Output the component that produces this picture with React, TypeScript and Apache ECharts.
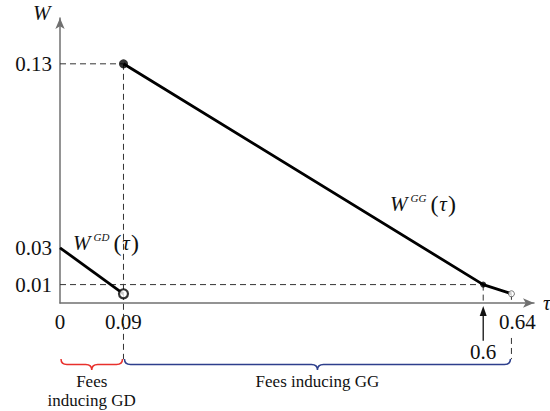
import React, { useEffect, useRef } from "react";
import * as echarts from "echarts";

// ---- data ----
const xLabelValues = [0, 0.09, 0.64];
const xArrowValue = 0.6;
const yLabelValues = [0.01, 0.03, 0.13];
const gdCurve = [[0, 0.03], [0.09, 0.005]];
const ggCurve = [[0.09, 0.13], [0.6, 0.01], [0.64, 0.005]];
const filledPoints = [[0.09, 0.13], [0.6, 0.01]];
const openPoints = [[0.09, 0.005], [0.64, 0.005]];
const guideLines = [
  [0, 0.13, 0.09, 0.13],
  [0.09, 0.13, 0.09, -0.0305],
  [0, 0.01, 0.6, 0.01],
  [0.6, 0.01, 0.6, 0],
  [0.64, 0.005, 0.64, 0],
  [0.64, -0.019, 0.64, -0.0305],
];
const arrowMarker = [[xArrowValue, -0.0205, -0.0016]];
const regionStarts = [0, 0.09];
const regionEnds = [0.09, 0.64];
const regionLabels = ["Fees\ninducing GD", "Fees inducing GG"];
const braceLevel = -0.0305;

// ---- styles ----
const regionColors = ["#e8302c", "#2d3f8c"];
const SERIF = "Liberation Serif";
const AXIS_COLOR = "#707070";

function fmt(v: number) {
  return String(Math.round(v * 100) / 100);
}

function curveLabel(x: number, y: number, sup: string) {
  return {
    type: "text",
    x,
    y,
    style: {
      text: `{w|W}{s|${sup}}{p|(}{t|τ}{p|)}`,
      verticalAlign: "middle",
      fill: "#111",
      rich: {
        w: { fontFamily: SERIF, fontStyle: "italic", fontSize: 21, color: "#111" },
        s: { fontFamily: SERIF, fontStyle: "italic", fontSize: 11, color: "#111", padding: [0, 3, 12, 3] },
        p: { fontFamily: SERIF, fontSize: 24, color: "#111", padding: [0, 1, 0, 1] },
        t: { fontFamily: SERIF, fontStyle: "italic", fontSize: 21, color: "#111" },
      },
    },
  };
}

export default function App() {
  const ref = useRef<HTMLDivElement>(null);
  useEffect(() => {
    document.body.style.margin = "0";
    const chart = echarts.init(ref.current!, null, { renderer: "svg" });
    const option: any = {
      animation: false,
      backgroundColor: "#fff",
      grid: { left: 60, right: 16, top: 18, bottom: 108, outerBoundsMode: "none" },
      xAxis: {
        type: "value",
        min: 0,
        max: 0.672,
        name: "τ",
        nameLocation: "end",
        nameGap: 9,
        nameTextStyle: { fontFamily: SERIF, fontStyle: "italic", fontSize: 21, color: "#111", padding: [16, 0, 0, 0] },
        axisLine: { show: true, symbol: ["none", "arrow"], symbolSize: [7, 11], lineStyle: { color: AXIS_COLOR, width: 1.5 } },
        axisTick: { show: false },
        splitLine: { show: false },
        axisLabel: {
          customValues: xLabelValues,
          margin: 8,
          fontFamily: SERIF,
          fontSize: 21,
          color: "#111",
          formatter: (v: number) => (Math.abs(v - 0.64) < 1e-9 ? "{s|" + fmt(v) + "}" : fmt(v)),
          rich: { s: { fontFamily: SERIF, fontSize: 21, color: "#111", padding: [0, 0, 0, 12] } },
        },
      },
      yAxis: {
        type: "value",
        min: 0,
        max: 0.1549,
        axisLine: { show: true, symbol: ["none", "arrow"], symbolSize: [7, 11], lineStyle: { color: AXIS_COLOR, width: 1.5 } },
        axisTick: { show: false },
        splitLine: { show: false },
        axisLabel: {
          customValues: yLabelValues,
          margin: 8,
          fontFamily: SERIF,
          fontSize: 21,
          color: "#111",
          formatter: (v: number) => fmt(v),
        },
      },
      graphic: [
        { type: "text", left: 33, top: 2, style: { text: "W", fontFamily: SERIF, fontStyle: "italic", fontSize: 21, fill: "#111" } },
        curveLabel(73, 243, "GD"),
        curveLabel(390, 204, "GG"),
      ],
      series: [
        {
          type: "custom",
          silent: true,
          z: 1,
          data: guideLines,
          encode: { x: [0, 2], y: [1, 3] },
          renderItem: (_p: any, api: any) => {
            const a = api.coord([api.value(0), api.value(1)]);
            const b = api.coord([api.value(2), api.value(3)]);
            return {
              type: "line",
              shape: { x1: a[0], y1: a[1], x2: b[0], y2: b[1] },
              style: { stroke: "#333", lineWidth: 1, lineDash: [6, 4] },
            };
          },
        },
        {
          type: "line",
          data: gdCurve,
          symbol: "none",
          z: 3,
          lineStyle: { color: "#000", width: 2.8 },
        },
        {
          type: "line",
          data: ggCurve,
          symbol: "none",
          z: 3,
          lineStyle: { color: "#000", width: 2.8 },
        },
        {
          type: "scatter",
          z: 5,
          data: [
            { value: filledPoints[0], symbolSize: 9, itemStyle: { color: "#000" } },
            { value: filledPoints[1], symbolSize: 6, itemStyle: { color: "#000" } },
            { value: openPoints[0], symbolSize: 9, itemStyle: { color: "#fff", borderColor: "#000", borderWidth: 2.2 } },
            { value: openPoints[1], symbolSize: 6, itemStyle: { color: "#fff", borderColor: "#555", borderWidth: 1 } },
          ],
        },
        {
          type: "custom",
          silent: true,
          z: 4,
          data: arrowMarker,
          encode: { x: 0, y: [1, 2] },
          renderItem: (_p: any, api: any) => {
            const base = api.coord([api.value(0), api.value(1)]);
            const tip = api.coord([api.value(0), api.value(2)]);
            return {
              type: "group",
              children: [
                { type: "line", shape: { x1: base[0], y1: base[1], x2: tip[0], y2: tip[1] + 6 }, style: { stroke: "#111", lineWidth: 1.3 } },
                {
                  type: "polygon",
                  shape: { points: [[tip[0], tip[1]], [tip[0] - 3.5, tip[1] + 10], [tip[0] + 3.5, tip[1] + 10]] },
                  style: { fill: "#111" },
                },
                {
                  type: "text",
                  style: { x: base[0], y: base[1] + 1, text: fmt(api.value(0)), align: "center", verticalAlign: "top", fontFamily: SERIF, fontSize: 21, fill: "#111" },
                },
              ],
            };
          },
        },
        {
          type: "custom",
          silent: true,
          z: 4,
          data: regionStarts.map((s, i) => [s, regionEnds[i], braceLevel, i]),
          encode: { x: [0, 1], y: 2 },
          renderItem: (_p: any, api: any) => {
            const i = api.value(3);
            const a = api.coord([api.value(0), api.value(2)]);
            const b = api.coord([api.value(1), api.value(2)]);
            const x0 = a[0] + 1, x1 = b[0] - 1, y0 = a[1];
            const h = 11, q = 6, ym = y0 + h / 2, xm = (x0 + x1) / 2;
            const d =
              `M${x0},${y0} Q${x0},${ym} ${x0 + q},${ym} L${xm - q},${ym} Q${xm},${ym} ${xm},${y0 + h} ` +
              `Q${xm},${ym} ${xm + q},${ym} L${x1 - q},${ym} Q${x1},${ym} ${x1},${y0}`;
            return {
              type: "group",
              children: [
                { type: "path", shape: { pathData: d }, style: { stroke: regionColors[i], fill: "none", lineWidth: 1.5 } },
                {
                  type: "text",
                  style: {
                    x: xm,
                    y: y0 + 13,
                    text: regionLabels[i],
                    align: "center",
                    verticalAlign: "top",
                    fontFamily: SERIF,
                    fontSize: 17,
                    lineHeight: 19,
                    fill: "#111",
                  },
                },
              ],
            };
          },
        },
      ],
    };
    chart.setOption(option);
    return () => chart.dispose();
  }, []);
  return <div ref={ref} style={{ position: "absolute", left: 0, top: 0, width: 550, height: 411, background: "#fff" }} />;
}
